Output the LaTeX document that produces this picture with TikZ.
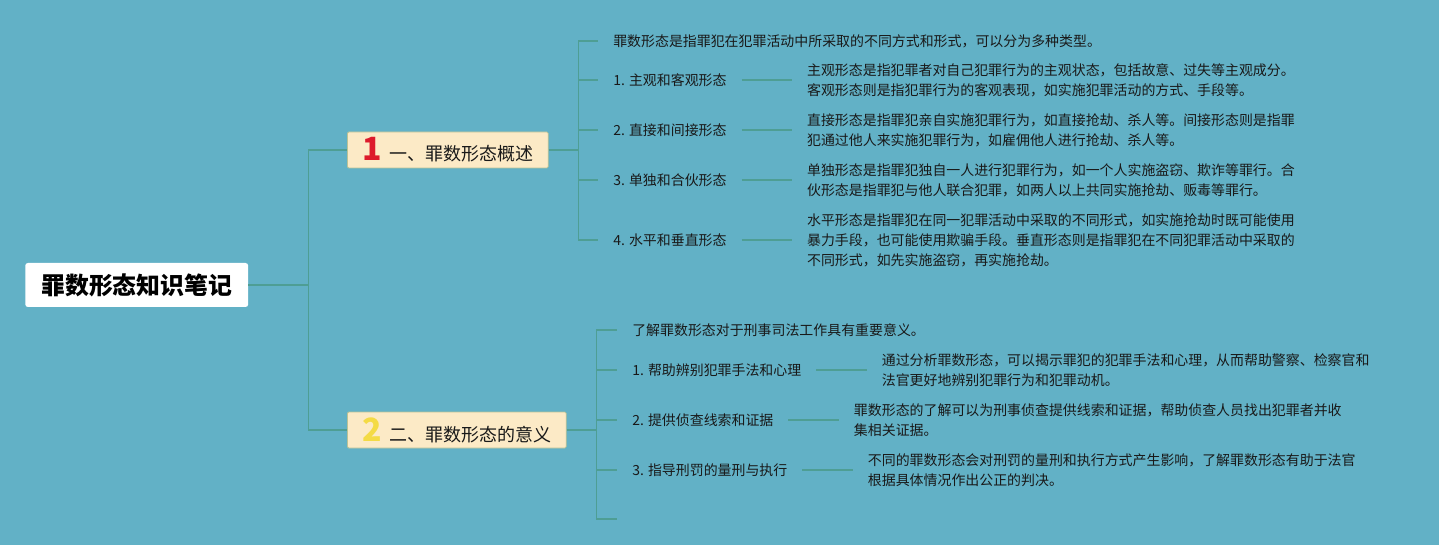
\documentclass[tikz,border=0pt]{standalone}
\usepackage{fontspec}
\newfontfamily\cjk{Noto Sans CJK SC}
\usetikzlibrary{positioning,calc}

\definecolor{bgteal}{HTML}{62B1C6}
\definecolor{linkteal}{HTML}{4E9E94}
\definecolor{cream}{HTML}{FCEAC6}
\definecolor{creamedge}{HTML}{B9C296}
\definecolor{numred}{HTML}{DD1A2B}
\definecolor{numyellow}{HTML}{F4DB45}
\newcommand\topicnum[2]{\textcolor{#1}{\fontsize{24}{24}\selectfont\bfseries #2}\hspace{6pt}}

\begin{document}
\begin{tikzpicture}[x=0.75pt,y=-0.75pt,
  link/.style={draw=linkteal,line width=1.3pt},
  rootbox/.style={fill=white,rounded corners=2pt,inner xsep=12pt,minimum height=33pt,anchor=west,
    font=\cjk\bfseries\fontsize{17.9}{20}\selectfont},
  topic/.style={fill=cream,draw=creamedge,line width=.6pt,rounded corners=1pt,inner xsep=11pt,inner ysep=0pt,
    minimum height=27pt,anchor=west,text=black!90,font=\cjk\fontsize{13.5}{16}\selectfont},
  leaf/.style={inner sep=0pt,anchor=west,align=left,text=black!90,font=\cjk\fontsize{10.45}{15}\selectfont}]

\fill[bgteal] (0,0) rectangle (1439,545);
\useasboundingbox (0,0) rectangle (1439,545);

\node[rootbox] (root) at (25,285) {罪数形态知识笔记};
\node[topic] (b1) at (347,150) {\topicnum{numred}{1}一、罪数形态概述};
\node[topic] (b2) at (347,430) {\topicnum{numyellow}{2}二、罪数形态的意义};

% branch 1
\node[leaf] (c10) at (613,41) {罪数形态是指罪犯在犯罪活动中所采取的不同方式和形式，可以分为多种类型。};
\node[leaf] (c11) at (613,80) {1. 主观和客观形态};
\node[leaf] (c12) at (613,130) {2. 直接和间接形态};
\node[leaf] (c13) at (613,180) {3. 单独和合伙形态};
\node[leaf] (c14) at (613,240) {4. 水平和垂直形态};
\node[leaf,right=60pt of c11] (d11) {主观形态是指犯罪者对自己犯罪行为的主观状态，包括故意、过失等主观成分。\\客观形态则是指犯罪行为的客观表现，如实施犯罪活动的方式、手段等。};
\node[leaf,right=60pt of c12] (d12) {直接形态是指罪犯亲自实施犯罪行为，如直接抢劫、杀人等。间接形态则是指罪\\犯通过他人来实施犯罪行为，如雇佣他人进行抢劫、杀人等。};
\node[leaf,right=60pt of c13] (d13) {单独形态是指罪犯独自一人进行犯罪行为，如一个人实施盗窃、欺诈等罪行。合\\伙形态是指罪犯与他人联合犯罪，如两人以上共同实施抢劫、贩毒等罪行。};
\node[leaf,right=60pt of c14] (d14) {水平形态是指罪犯在同一犯罪活动中采取的不同形式，如实施抢劫时既可能使用\\暴力手段，也可能使用欺骗手段。垂直形态则是指罪犯在不同犯罪活动中采取的\\不同形式，如先实施盗窃，再实施抢劫。};

% branch 2
\node[leaf] (e20) at (632,330) {了解罪数形态对于刑事司法工作具有重要意义。};
\node[leaf] (e21) at (632,370) {1. 帮助辨别犯罪手法和心理};
\node[leaf] (e22) at (632,420) {2. 提供侦查线索和证据};
\node[leaf] (e23) at (632,470) {3. 指导刑罚的量刑与执行};
\coordinate (e24) at (632,519);
\node[leaf,right=60pt of e21] (f21) {通过分析罪数形态，可以揭示罪犯的犯罪手法和心理，从而帮助警察、检察官和\\法官更好地辨别犯罪行为和犯罪动机。};
\node[leaf,right=60pt of e22] (f22) {罪数形态的了解可以为刑事侦查提供线索和证据，帮助侦查人员找出犯罪者并收\\集相关证据。};
\node[leaf,right=60pt of e23] (f23) {不同的罪数形态会对刑罚的量刑和执行方式产生影响，了解罪数形态有助于法官\\根据具体情况作出公正的判决。};

% connectors
\coordinate (t0) at ($(root.east)+(60,0)$);
\coordinate (s1) at ($(b1.east)+(30,0)$);
\coordinate (s2) at ($(b2.east)+(30,0)$);
\draw[link] (root) -- (t0);
\draw[link] (t0) |- (b1);
\draw[link] (t0) |- (b2);
\draw[link] (b1) -- (s1);
\draw[link] (b2) -- (s2);
\foreach \c in {c10,c11,c12,c13,c14}
  \draw[link,shorten >=11pt] (s1) |- (\c);
\foreach \c in {e20,e21,e22,e23,e24}
  \draw[link,shorten >=11pt] (s2) |- (\c);
\foreach \a/\b in {c11/d11,c12/d12,c13/d13,c14/d14,e21/f21,e22/f22,e23/f23}
  \draw[link,shorten <=11pt,shorten >=11pt] (\a) -- (\b);

\end{tikzpicture}
\end{document}
